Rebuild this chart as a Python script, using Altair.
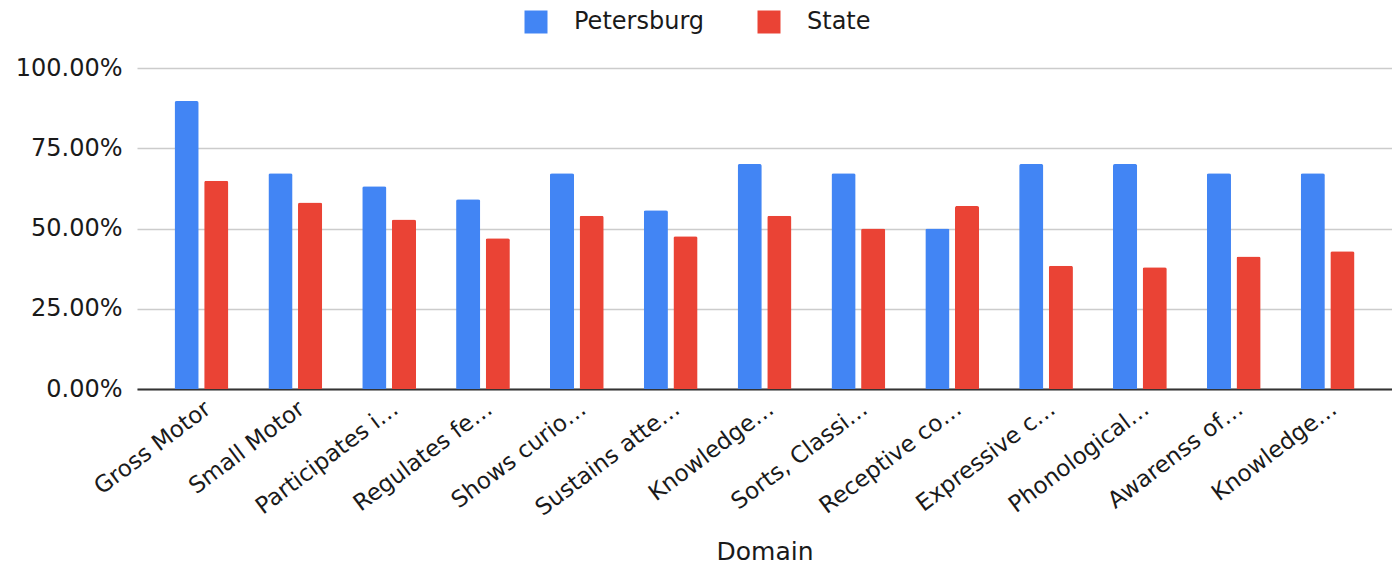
import json
import altair as alt
import pandas as pd

labels = ["Gross Motor", "Small Motor", "Participates i…", "Regulates fe…",
          "Shows curio…", "Sustains atte…", "Knowledge…", "Sorts, Classi…",
          "Receptive co…", "Expressive c…", "Phonological…", "Awarenss of…",
          "Knowledge…"]
series = ["Petersburg", "State"]
petersburg = [0.897, 0.672, 0.632, 0.591, 0.672, 0.557, 0.701, 0.672, 0.500,
              0.701, 0.701, 0.672, 0.672]
state = [0.649, 0.581, 0.528, 0.470, 0.540, 0.476, 0.540, 0.500, 0.570,
         0.384, 0.379, 0.413, 0.429]
y_ticks = [0, 0.25, 0.5, 0.75, 1.0]
colors = ["#4285f4", "#ea4335"]

rows = []
for i, (p, s) in enumerate(zip(petersburg, state)):
    rows.append({"idx": i, "series": series[0], "value": p})
    rows.append({"idx": i, "series": series[1], "value": s})
df = pd.DataFrame(rows)

label_expr = json.dumps(labels, ensure_ascii=False) + "[datum.value]"
FONT = "DejaVu Sans"

chart = alt.Chart(df).mark_bar(cornerRadiusTopLeft=2, cornerRadiusTopRight=2).encode(
    x=alt.X("idx:O", title="Domain",
            scale=alt.Scale(paddingInner=0.427, paddingOuter=0.40),
            axis=alt.Axis(labelExpr=label_expr, labelAngle=-37, labelAlign="right",
                          labelBaseline="top", labelPadding=8, ticks=False,
                          domainColor="#333333", domainWidth=2,
                          labelFont=FONT, labelFontSize=23, labelColor="#1a1a1a",
                          labelOverlap=False, labelLimit=0,
                          titleFont=FONT, titleFontSize=25, titleFontWeight="normal",
                          titleColor="#1a1a1a", titlePadding=20)),
    xOffset=alt.XOffset("series:N", sort=series,
                        scale=alt.Scale(paddingInner=0.185)),
    y=alt.Y("value:Q", title=None, scale=alt.Scale(domain=[0, 1]),
            axis=alt.Axis(values=y_ticks, format=".2%", domain=False, ticks=False,
                          gridColor="#cccccc", gridWidth=1.5,
                          labelFont=FONT, labelFontSize=24, labelColor="#1a1a1a",
                          labelPadding=15)),
    color=alt.Color("series:N", sort=series,
                    scale=alt.Scale(domain=series, range=colors),
                    legend=alt.Legend(title=None, orient="none", legendX=387, legendY=-58,
                                      direction="horizontal", symbolType="square",
                                      symbolSize=529, symbolStrokeWidth=0,
                                      labelFont=FONT, labelFontSize=24,
                                      labelColor="#1a1a1a",
                                      columnPadding=52, labelOffset=26)),
).properties(
    width=1255, height=321,
    autosize=alt.AutoSizeParams(type="none"),
    padding={"left": 129, "top": 60, "right": 0, "bottom": 180},
).configure_view(stroke=None)

chart.save("out.html", embed_options={"renderer": "svg", "actions": False})
